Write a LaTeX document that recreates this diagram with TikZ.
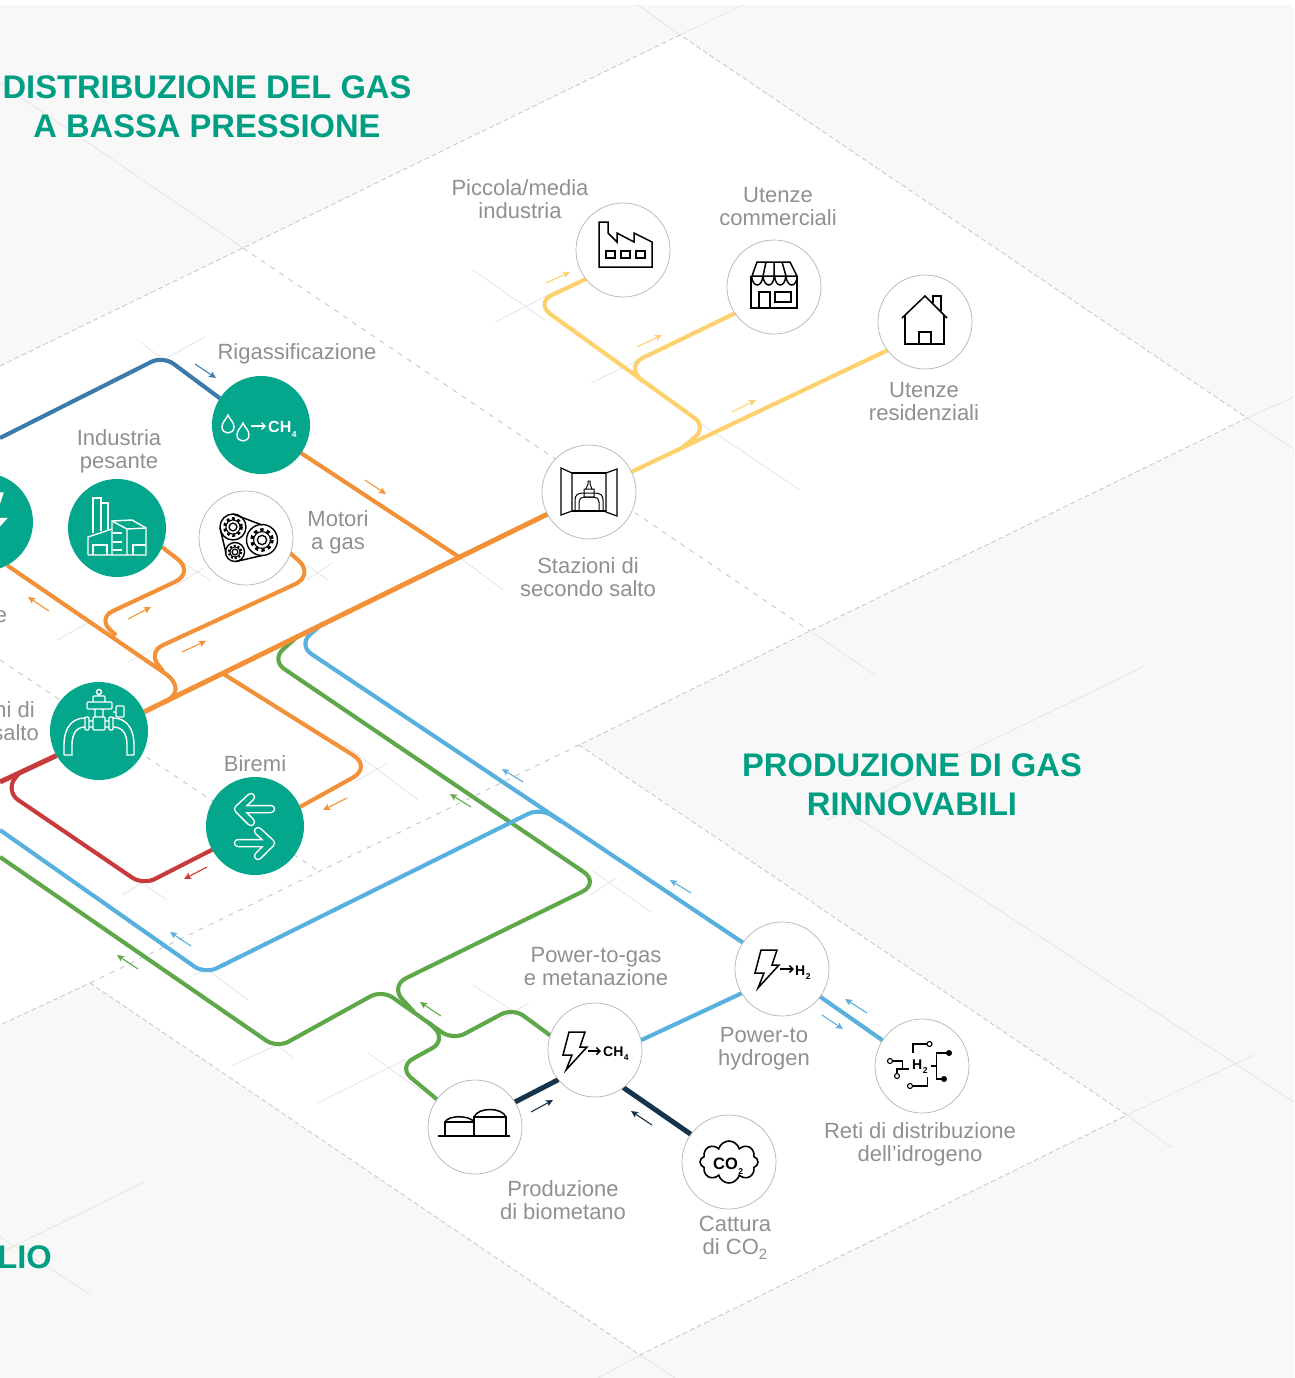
\documentclass[tikz,border=0pt]{standalone}
\usepackage{fontspec}
\setmainfont{Liberation Sans}
\usetikzlibrary{arrows.meta,shapes.symbols}
\definecolor{floorgray}{HTML}{F8F8F8}
\definecolor{gridgray}{HTML}{E2E2E2}
\definecolor{dashgray}{HTML}{C6C6C6}
\definecolor{ringgray}{HTML}{B4B4B4}
\definecolor{labelgray}{HTML}{909090}
\definecolor{hubteal}{HTML}{05A78C}
\definecolor{titleteal}{HTML}{009F84}
\definecolor{pipeorange}{HTML}{F39138}
\definecolor{pipeyellow}{HTML}{FDD16E}
\definecolor{pipesky}{HTML}{58B0DE}
\definecolor{pipegreen}{HTML}{5EA84A}
\definecolor{pipered}{HTML}{C93A3C}
\definecolor{pipenavy}{HTML}{15354F}
\definecolor{pipesteel}{HTML}{3B7BAC}
\pgfdeclarelayer{floor}
\pgfdeclarelayer{pipes}
\pgfsetlayers{floor,pipes,main}
\tikzset{
	hub/.style={circle,fill=hubteal,minimum size=98pt,inner sep=0pt,outer sep=0pt},
	stop/.style={circle,draw=ringgray,fill=white,line width=0.7pt,minimum size=94pt,inner sep=0pt,outer sep=0pt},
	pipe/.style={line width=4.1pt,rounded corners=13pt,line join=round},
	plainpipe/.style={line width=4.1pt},
	trunk/.style={line width=5pt},
	flow/.style={line width=1.1pt,-{Stealth[length=7pt,width=6.5pt,inset=1.5pt]}},
	gridline/.style={gridgray,line width=0.7pt},
	edgedash/.style={dashgray,line width=0.8pt,dash pattern=on 5pt off 3pt},
	innerdash/.style={dashgray,line width=0.9pt,dash pattern=on 5pt off 6pt},
	place/.style={labelgray,align=center,inner sep=0pt,font=\fontsize{22}{23}\selectfont},
	heading/.style={titleteal,align=center,inner sep=0pt,font=\bfseries\fontsize{32.7}{39}\selectfont},
	icon/.style={black,line width=1.5pt},
	iconw/.style={white,line width=1.4pt},
	icontext/.style={inner sep=0pt,anchor=base west,font=\bfseries\fontsize{16}{16}\selectfont},
}
\def\flowmark[#1](#2)(#3){\coordinate (ms) at (#2); \coordinate (me) at (#3); \draw[flow,#1] (ms) -- (me);}
\def\bolticon[#1](#2)(#3){\draw[#1,shift={(#2)},scale=#3,line join=miter] (6,0) -- (22,0) -- (17,15) -- (24,15) -- (3,38) -- (9,23) -- (0,23) -- cycle;}
\def\dropicon[#1](#2){\draw[#1,shift={(#2)}] (0,0) .. controls (-2,5) and (-6,7) .. (-6,12) .. controls (-6,16) and (-3,18) .. (0,18) .. controls (3,18) and (6,16) .. (6,12) .. controls (6,7) and (2,5) .. (0,0) -- cycle;}
\def\gearicon(#1)(#2)(#3){\draw[icon,line width=1.4pt] (#1) circle (#2); \draw[black,line width=#2*0.2pt,dash pattern=on #3pt off #3pt] (#1) circle (#2*0.66); \draw[icon,line width=1.1pt,fill=white] (#1) circle (#2*0.54); \draw[icon,line width=1.3pt] (#1) circle (#2*0.3);}
\def\subdown#1{\raisebox{-0.32em}{\hspace{0.5pt}\fontsize{8.5}{8.5}\selectfont #1}}

\begin{document}
\begin{tikzpicture}[x=1pt,y=-1pt]
	\useasboundingbox (0,0) rectangle (1294,1378);
	\clip (0,0) rectangle (1294,1378);

	%%%%% FLOOR %%%%%
	\begin{pgfonlayer}{floor}
		\fill[floorgray] (0,5) rectangle (1294,1378);
		\fill[white] (680,35) -- (1247,418) -- (810,631) -- (579,745) -- (1127,1115) -- (640,1355) -- (90,983) -- (0,1025) -- (0,366) -- (243,248) -- cycle;

		\foreach \xa/\ya/\xb/\yb in {0/83/243/248, 638/5/680/35, 680/35/743/5, 1247/418/1294/397, 1247/418/1294/449,
			810/631/875/675, 827/820/1143/667, 850/813/1294/1102, 1127/1115/1254/1055, 1127/1115/1172/1148,
			640/1355/598/1378, 640/1355/675/1378, 0/1253/144/1182, 0/1237/90/1294,
			473/270/545/320, 495/322/558/290, 591/383/655/352, 700/423/800/490, 142/343/163/360, 163/360/205/337,
			459/557/503/590, 182/562/210/580, 203/568/177/585, 307/565/328/580, 332/563/307/580,
			57/640/93/620, 128/662/157/647, 345/745/418/800, 353/783/388/763, 122/895/142/883, 142/883/167/900,
			194/975/208/970, 208/970/248/1000, 233/1065/277/1045, 277/1045/292/1057,
			317/1103/405/1060, 368/1053/420/1090, 473/985/530/1022, 529/1003/500/1020, 593/871/651/912, 616/878/590/895}
			\draw[gridline] (\xa,\ya) -- (\xb,\yb);

		\draw[edgedash] (0,366) -- (243,248) -- (680,35) -- (1247,418) -- (810,631) -- (579,745) -- (1127,1115) -- (640,1355) -- (90,983) -- (0,1025);
		\draw[innerdash] (243,248) -- (810,631);
		\draw[innerdash] (0,660) -- (317,870);
		\draw[innerdash] (90,983) -- (579,745);
	\end{pgfonlayer}

	%%%%% PLACES %%%%%
	\node[hub] (rigas) at (261,425) {};
	\node[hub] (powerleft) at (-16,522) {};
	\node[hub] (heavy) at (117,528) {};
	\node[stop] (engines) at (246,538) {};
	\node[hub] (valve) at (99,731) {};
	\node[hub] (biremi) at (255,826) {};
	\node[stop] (second) at (589,492) {};
	\node[stop] (smallind) at (623,250) {};
	\node[stop] (shops) at (774,287) {};
	\node[stop] (homes) at (925,322) {};
	\node[stop] (pth) at (782,969) {};
	\node[stop] (ptg) at (595,1050) {};
	\node[stop] (biomet) at (475,1127) {};
	\node[stop] (capture) at (729,1162) {};
	\node[stop] (h2net) at (922,1066) {};

	\coordinate (edgesteel) at (0,438);
	\coordinate (edgered) at (0,782);
	\coordinate (edgesky) at (0,830);
	\coordinate (edgegreen) at (0,857);
	\coordinate (jrigas) at (459,557);
	\coordinate (jbiremi) at (222,673);
	\coordinate (jdiag) at (165,702);
	\coordinate (jheavy) at (116,635.5);
	\coordinate (jengines) at (163,671);
	\coordinate (jred) at (20,772);
	\coordinate (jskytop) at (322,624);
	\coordinate (jgreentop) at (297,637);
	\coordinate (jskylow) at (562,822);
	\coordinate (jgreenlow) at (414,1012);
	\coordinate (jgreenbio) at (428,1022);
	\coordinate (jyellow) at (683,447);
	\coordinate (jshops) at (643,382);

	%%%%% PIPES %%%%%
	\begin{pgfonlayer}{pipes}
		\draw[pipe,pipesteel] (edgesteel) -- (163,356) -- (rigas.147);
		\draw[pipe,pipeorange] (rigas.-35) -- (jrigas);
		\draw[pipe,pipeorange] (heavy.-23) [rounded corners=22pt] -- (195,572.5) [rounded corners=16pt] -- (98,618) -- (jheavy);
		\draw[pipe,pipeorange] (engines.-19) [rounded corners=22pt] -- (315,575) [rounded corners=16pt] -- (148,652) -- (jengines);
		\draw[plainpipe,pipeorange] (powerleft.-62) -- (163,672) .. controls (180,683) and (179,695) .. (jdiag);
		\draw[pipe,pipeorange,rounded corners=22pt] (jbiremi) -- (372,767) -- (biremi.23);

		\draw[pipe,pipered] (jred) [rounded corners=16pt] -- (5,791) [rounded corners=13pt] -- (143,885) -- (biremi.209);
		\draw[trunk,pipered] (valve.210) -- (edgered);

		\draw[pipe,pipegreen] (jgreentop) [rounded corners=16pt] -- (271,660) [rounded corners=20pt] -- (600,883) [rounded corners=18pt] -- (390,986) -- (jgreenlow);
		\draw[pipe,pipegreen] (edgegreen) -- (277,1048) -- (382,990) -- (453,1040) -- (513,1008) -- (ptg.162);
		\draw[pipe,pipegreen,rounded corners=17pt] (biomet.144) -- (398,1067) -- (447,1040) -- (jgreenbio);

		\draw[pipe,pipesky,rounded corners=16pt] (pth.146) -- (298,645) -- (jskytop);
		\draw[pipe,pipesky] (edgesky) -- (205,974) -- (540,808) -- (jskylow);
		\draw[plainpipe,pipesky] (pth.211) -- (ptg.12);
		\draw[plainpipe,pipesky] (pth.-36) -- (h2net.147);

		\draw[trunk,pipenavy] (biomet.32) -- (ptg.219);
		\draw[trunk,pipenavy] (capture.144) -- (ptg.-53);

		\draw[trunk,pipeorange] (second.208) -- (valve.23.5);

		\draw[plainpipe,pipeyellow] (second.center) -- (homes.217);
		\draw[pipe,pipeyellow] (jyellow) [rounded corners=15pt] -- (707,427) [rounded corners=19pt] -- (535,303) -- (smallind.218);
		\draw[pipe,pipeyellow,rounded corners=16pt] (jshops) -- (628,365) -- (shops.214);
	\end{pgfonlayer}

	%%%%% FLOW MARKS %%%%%
	\flowmark[pipeyellow](546,283)(570,272)
	\flowmark[pipeyellow](637,347)(662,335)
	\flowmark[pipeyellow](732,412)(756,400)
	\flowmark[pipesteel](195,364)(216,378)
	\flowmark[pipeorange](365,480)(386,494)
	\flowmark[pipeorange](49,611)(28,597)
	\flowmark[pipeorange](128,619)(151,607)
	\flowmark[pipeorange](182,652)(206,641)
	\flowmark[pipeorange](347,798)(323,810)
	\flowmark[pipered](207,867)(184,879)
	\flowmark[pipesky](191,946)(170,932)
	\flowmark[pipesky](523,782)(502,769)
	\flowmark[pipesky](691,893)(670,880)
	\flowmark[pipesky](867,1013)(845,999)
	\flowmark[pipesky](822,1015)(843,1029)
	\flowmark[pipegreen](138,969)(117,955)
	\flowmark[pipegreen](441,1016)(420,1002)
	\flowmark[pipegreen](471,807)(450,794)
	\flowmark[pipenavy](531,1112)(553,1100)
	\flowmark[pipenavy](652,1125)(631,1111)

	%%%%% LABELS %%%%%
	\node[heading] (titlelow) at (207,106.5) {DISTRIBUZIONE DEL GAS\\A BASSA PRESSIONE};
	\node[heading] (titlerenew) at (912,784.5) {PRODUZIONE DI GAS\\RINNOVABILI};
	\node[heading,anchor=east] (titlestock) at (52,1257.5) {LIO};
	\node[place] (labsmallind) at (520,199) {Piccola/media\\industria};
	\node[place] (labshops) at (778,207) {Utenze\\commerciali};
	\node[place] (labhomes) at (924,401.5) {Utenze\\residenziali};
	\node[place] (labrigas) at (297,353.5) {Rigassificazione};
	\node[place] (labheavy) at (119,451) {Industria\\pesante};
	\node[place] (labengines) at (338,532) {Motori\\a gas};
	\node[place] (labsecond) at (588,577) {Stazioni di\\secondo salto};
	\node[place] (labbiremi) at (255,764) {Biremi};
	\node[place] (labptg) at (596,966.5) {Power-to-gas\\e metanazione};
	\node[place] (labpth) at (764,1049) {Power-to\\hydrogen};
	\node[place] (labh2net) at (920,1144) {Reti di distribuzione\\dell’idrogeno};
	\node[place] (labbiomet) at (563,1200) {Produzione\\di biometano};
	\node[place] (labcapture) at (735,1238) {Cattura\\di CO\raisebox{-0.25em}{\fontsize{15}{15}\selectfont 2}};
	\node[place] (labedgea) at (1,617) {e};
	\node[place,anchor=east] (labedgeb) at (35,710) {ni di};
	\node[place,anchor=east] (labedgec) at (39,733) {salto};

	%%%%% ICONS %%%%%
	% regasification
	\dropicon[iconw](228,415)
	\dropicon[iconw](243,423)
	\draw[iconw,-{Straight Barb[length=3.5pt,width=7pt]}] (251,426) -- (266,426);
	\node[icontext,white] (textrigas) at (268,432) {CH\subdown{4}};

	% power on the left
	\bolticon[iconw,fill=white](-34.5,493)(1.7)

	% heavy industry
	\draw[iconw] (93,533) -- (93,498) -- (101,498) -- (101,531);
	\draw[iconw] (101,503) -- (108,503) -- (108,530);
	\draw[iconw] (88,555) -- (88,537) -- (112,529);
	\draw[iconw] (88,555) -- (146,555) -- (146,528) -- (132,520) -- (112,521) -- (112,555);
	\draw[iconw] (112,521) -- (127,529) -- (146,528) (127,529) -- (127,555);
	\draw[iconw] (93,555) -- (93,545) -- (107,545) -- (107,555);
	\draw[iconw] (133,555) -- (133,545) -- (146,545);
	\foreach \yy in {533,542,550} \draw[iconw] (113,\yy) -- (122,\yy);

	% gas engines
	\gearicon(262,540)(15.5)(3.3)
	\gearicon(233,527)(13)(2.8)
	\gearicon(235,552)(9.5)(2)
	\draw[icon] (233,514) -- (262,525) (262,555.5) -- (236,561.5) (220,528) -- (226,553);

	% valve
	\draw[iconw] (64,755) -- (64,745) .. controls (64,728) and (72,718) .. (85,718);
	\draw[iconw] (64,755) -- (72,755) -- (72,745) .. controls (72,733) and (77,727) .. (85,727);
	\draw[iconw] (134,755) -- (134,745) .. controls (134,728) and (126,718) .. (113,718);
	\draw[iconw] (134,755) -- (127,755) -- (127,745) .. controls (127,733) and (122,727) .. (113,727);
	\draw[iconw,rounded corners=1pt] (85,717) rectangle (89,730) (109,717) rectangle (113,730) (89,721) -- (93,721) (105,721) -- (109,721) (89,727) -- (93,727) (105,727) -- (109,727);
	\draw[iconw,rounded corners=1pt] (93,717) rectangle (105,730) (95,709) rectangle (103,717) (87,702) rectangle (112,709) (93,696) rectangle (105,702);
	\draw[iconw] (99,692) circle (2.5) (99,694.5) -- (99,696);
	\draw[iconw,rounded corners=1pt] (116,706) rectangle (124,717) (113,712) -- (116,712);

	% biremi
	\draw[white,line width=8.5pt,line cap=round,line join=round] (251,797) -- (238,809) -- (251,822) (238,809) -- (271,809);
	\draw[hubteal,line width=5.5pt,line cap=round,line join=round] (251,797) -- (238,809) -- (251,822) (238,809) -- (271,809);
	\draw[white,line width=8.5pt,line cap=round,line join=round] (258,831) -- (271,843) -- (258,856) (271,843) -- (238,843);
	\draw[hubteal,line width=5.5pt,line cap=round,line join=round] (258,831) -- (271,843) -- (258,856) (271,843) -- (238,843);

	% second stage station
	\draw[icon,line width=1.2pt] (561,468) -- (572,473) -- (572,511) -- (561,515) -- cycle;
	\draw[icon,line width=1.2pt] (617,469) -- (606,473) -- (606,512) -- (617,516) -- cycle;
	\draw[icon,line width=1.2pt] (572,473) -- (606,473) (572,511) -- (606,511);
	\draw[icon,line width=1pt] (575,511) -- (575,500) .. controls (575,495) and (578,493) .. (583,493) -- (595,493) .. controls (600,493) and (603,495) .. (603,500) -- (603,511);
	\draw[icon,line width=1pt] (579,511) -- (579,502) .. controls (579,499) and (581,497) .. (584,497) -- (594,497) .. controls (597,497) and (599,499) .. (599,502) -- (599,511);
	\draw[icon,line width=1pt] (584,489) rectangle (594,497) (586,489) -- (588,484) -- (588,481) -- (590,481) -- (590,484) -- (592,489);

	% small industry
	\draw[icon] (599,267) -- (599,222) -- (608,222) -- (608,233) -- (617,242) -- (617,233) -- (634,242) -- (634,233) -- (652,242) -- (652,267) -- cycle;
	\foreach \xx in {606,621,636} \draw[icon] (\xx,251) rectangle (\xx+9,258);

	% shops
	\draw[icon] (752,276) -- (757,262) -- (790,262) -- (797,276) -- cycle;
	\draw[icon] (751,276) -- (751,308) -- (797,308) -- (797,276);
	\draw[icon] (766,262) -- (763,276) (774,262) -- (774,276) (782,262) -- (786,276);
	\foreach \xx in {751.5,763,774.5,786} \draw[icon] (\xx,276) .. controls (\xx+1,288) and (\xx+10.5,288) .. (\xx+11.3,276);
	\draw[icon] (759,308) -- (759,292) -- (770,292) -- (770,308);
	\draw[icon] (775,292) rectangle (791,302);

	% homes
	\draw[icon] (902,318) -- (925,296) -- (947,318);
	\draw[icon] (905,315) -- (905,344) -- (944,344) -- (944,315);
	\draw[icon] (919,344) -- (919,332) -- (931,332) -- (931,344);
	\draw[icon] (933,303) -- (933,296) -- (941,296) -- (941,311);

	% power to gas
	\bolticon[icon](563,1032)(1)
	\draw[icon,-{Straight Barb[length=3.5pt,width=7pt]}] (588,1051) -- (601,1051);
	\node[icontext,font=\bfseries\fontsize{14}{14}\selectfont] (textptg) at (603,1056.5) {CH\subdown{4}};

	% power to hydrogen
	\bolticon[icon](755,950)(1)
	\draw[icon,-{Straight Barb[length=3.5pt,width=7pt]}] (780,969) -- (794,969);
	\node[icontext,font=\bfseries\fontsize{14}{14}\selectfont] (textpth) at (795,975) {H\subdown{2}};

	% biomethane
	\draw[icon,line width=1.8pt] (438,1136) -- (510,1136);
	\draw[icon] (445,1136) -- (445,1122) -- (474,1122) (474,1136) -- (474,1117) -- (506,1117) -- (506,1136);
	\draw[icon] (445,1122) .. controls (448,1115) and (470,1115) .. (474,1122);
	\draw[icon] (474,1117) .. controls (478,1107) and (502,1107) .. (506,1117);

	% capture
	\node[cloud,cloud puffs=8,aspect=1.5,draw=black,line width=1.6pt,minimum width=58pt,minimum height=42pt,inner sep=0pt] (cloudco) at (729,1162) {};
	\node[icontext,font=\bfseries\fontsize{16.5}{16.5}\selectfont] (textco) at (713,1169) {CO\subdown{2}};

	% hydrogen networks
	\node[icontext,font=\bfseries\fontsize{14}{14}\selectfont] (texth2net) at (912,1069) {H\subdown{2}};
	\draw[icon,line width=1.1pt] (913,1053) -- (913,1044) -- (927,1044);
	\draw[icon,line width=1.1pt] (892.5,1061) -- (902.5,1061) -- (902.5,1069);
	\draw[icon,line width=1.1pt] (897,1073.5) -- (897,1069) -- (909,1069);
	\draw[icon,line width=1.1pt] (927.5,1077) -- (927.5,1086) -- (912.5,1086);
	\draw[icon,line width=1.1pt] (930.5,1066) -- (936.5,1066) (949,1053) -- (936.5,1053) -- (936.5,1079) -- (944,1079);
	\foreach \xx/\yy in {929.5/1044,890/1061,897/1076,910/1086} \draw[icon,line width=1.1pt] (\xx,\yy) circle (2.5);
	\fill (949,1053) circle (3) (944,1079) circle (3);
\end{tikzpicture}
\end{document}
